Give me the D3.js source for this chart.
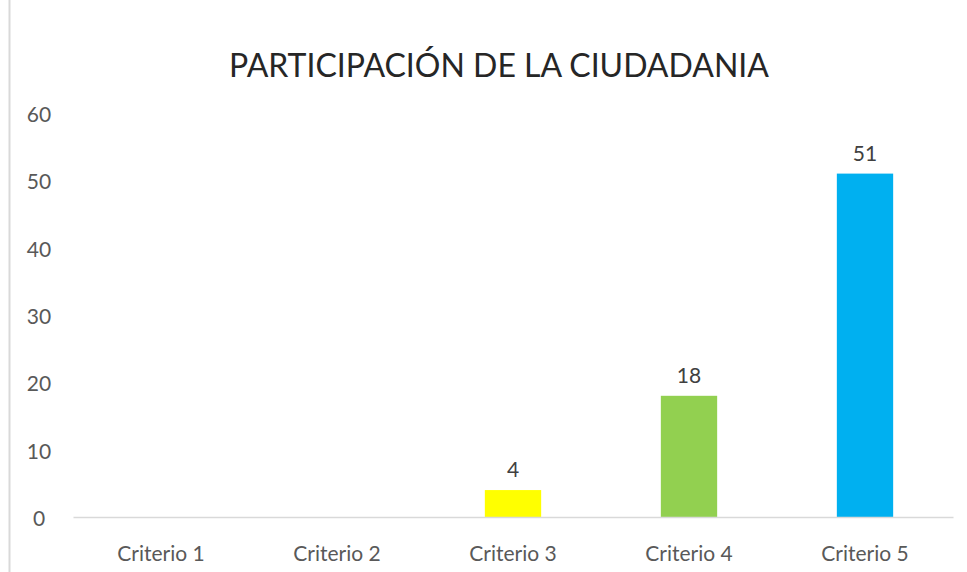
<!DOCTYPE html>
<html><head><meta charset="utf-8">
<script src="https://cdn.jsdelivr.net/npm/d3@7"></script>
<style>body{margin:0;background:#fff}svg{display:block}</style>
</head><body>
<svg id="c" width="967" height="572"></svg>
<script>
const categories = ["Criterio 1","Criterio 2","Criterio 3","Criterio 4","Criterio 5"];
const values = [0, 0, 4, 18, 51];
const colors = ["#4472C4","#ED7D31","#FFFF00","#92D050","#00B0F0"];
const yTicks = [0,10,20,30,40,50,60];
const title = "PARTICIPACIÓN DE LA CIUDADANIA";

(function(){
const svg = d3.select("#c");
const font = "Lato, 'Open Sans', sans-serif";
const mLeft = 73, mRight = 953, mTop = 113, mBottom = 517;

svg.append("line").attr("x1",9.5).attr("x2",9.5).attr("y1",0).attr("y2",572)
  .attr("stroke","#d9d9d9").attr("stroke-width",2);

const x = d3.scaleBand().domain(categories).range([mLeft,mRight]).paddingInner(0.68).paddingOuter(0.34);
const y = d3.scaleLinear().domain([0,60]).range([mBottom,mTop]);

svg.append("text").attr("x",499).attr("y",77).attr("text-anchor","middle")
  .attr("font-family",font).attr("font-size",32).attr("fill","#262626").text(title);

const yAxis = svg.append("g").attr("transform",`translate(${mLeft},0)`)
  .call(d3.axisLeft(y).tickValues(yTicks).tickSize(0).tickPadding(0));
yAxis.select(".domain").remove();
yAxis.selectAll("text").attr("x",-34).attr("text-anchor","middle").attr("dy","0.4em")
  .attr("font-family",font).attr("font-size",21).attr("fill","#595959");

const data = values.map((v,i)=>({c:categories[i], v, col:colors[i]}));

svg.selectAll("rect.bar").data(data).join("rect").attr("class","bar")
  .attr("x",d=>x(d.c)).attr("width",x.bandwidth())
  .attr("y",d=>y(d.v)).attr("height",d=>y(0)-y(d.v)).attr("fill",d=>d.col);

const xAxis = svg.append("g").attr("transform",`translate(0,${mBottom})`)
  .call(d3.axisBottom(x).tickSize(0).tickPadding(0));
xAxis.select(".domain").attr("stroke","#d9d9d9").attr("stroke-width",1.5);
xAxis.selectAll("text").attr("y",44).attr("dy",0).attr("font-family",font).attr("font-size",21).attr("fill","#595959");

svg.selectAll("text.lbl").data(data.filter(d=>d.v>0)).join("text").attr("class","lbl")
  .attr("x",d=>x(d.c)+x.bandwidth()/2)
  .attr("y",d=>y(d.v)-13).attr("text-anchor","middle")
  .attr("font-family",font).attr("font-size",21).attr("fill","#404040").text(d=>d.v);
})();
</script>
</body></html>
